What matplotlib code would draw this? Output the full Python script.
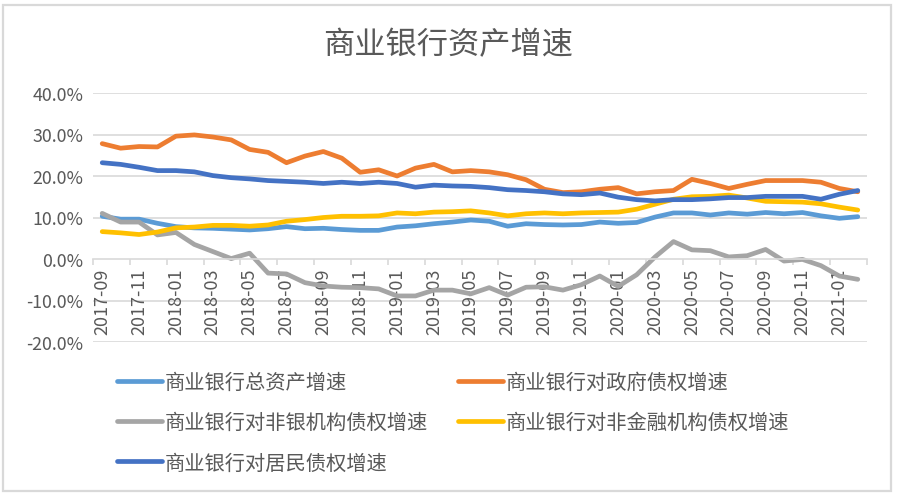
import matplotlib
matplotlib.use('Agg')
import matplotlib.pyplot as plt
from matplotlib.patches import Rectangle
import numpy as np
import pandas as pd

plt.rcParams['font.family'] = ['Noto Sans CJK SC', 'DejaVu Sans']

# monthly, 2017-09 .. 2021-02
months = pd.period_range('2017-09', '2021-02', freq='M').strftime('%Y-%m').tolist()

total_assets = [10.3, 9.6, 9.6, 8.6, 7.8, 7.5, 7.4, 7.2, 7.0, 7.3, 7.8, 7.3, 7.4, 7.1,
                6.9, 6.9, 7.7, 8.0, 8.5, 8.9, 9.4, 9.1, 7.9, 8.5, 8.3, 8.2, 8.3, 8.9,
                8.6, 8.8, 10.1, 11.1, 11.1, 10.6, 11.1, 10.8, 11.2, 10.9, 11.2, 10.4, 9.8, 10.2]
gov_claims = [27.8, 26.7, 27.1, 27.0, 29.6, 29.9, 29.4, 28.7, 26.4, 25.7, 23.2, 24.8, 25.9, 24.3,
              20.9, 21.5, 20.0, 21.9, 22.8, 21.0, 21.3, 21.0, 20.3, 19.1, 16.8, 16.0, 16.2, 16.8,
              17.2, 15.7, 16.2, 16.5, 19.2, 18.2, 17.0, 18.0, 18.9, 18.9, 18.9, 18.5, 17.0, 16.2]
nonbank_claims = [11.0, 8.9, 8.9, 5.8, 6.4, 3.5, 1.8, 0.1, 1.4, -3.4, -3.6, -5.7, -6.5, -6.8,
                  -6.9, -7.2, -8.9, -8.9, -7.5, -7.5, -8.4, -6.9, -8.7, -6.8, -6.7, -7.5, -6.2, -4.1,
                  -6.6, -3.8, 0.5, 4.2, 2.2, 2.0, 0.5, 0.8, 2.3, -0.5, -0.1, -1.6, -4.1, -4.9]
nonfin_claims = [6.6, 6.3, 5.9, 6.5, 7.5, 7.7, 8.1, 8.1, 7.9, 8.2, 9.1, 9.5, 10.0, 10.3,
                 10.3, 10.4, 11.1, 10.9, 11.3, 11.4, 11.6, 11.1, 10.4, 10.9, 11.1, 10.9, 11.1, 11.2,
                 11.3, 12.0, 13.2, 14.4, 15.0, 15.1, 15.4, 14.7, 13.9, 13.8, 13.7, 13.3, 12.5, 11.8]
household_claims = [23.2, 22.8, 22.1, 21.3, 21.3, 21.0, 20.1, 19.6, 19.3, 18.9, 18.7, 18.5, 18.2, 18.5,
                    18.2, 18.5, 18.2, 17.3, 17.8, 17.6, 17.5, 17.2, 16.7, 16.5, 16.2, 15.7, 15.5, 15.9,
                    14.9, 14.3, 14.0, 14.3, 14.3, 14.5, 14.8, 14.8, 15.1, 15.1, 15.1, 14.4, 15.6, 16.5]

series = [
    ('商业银行总资产增速', total_assets, '#5B9BD5'),
    ('商业银行对政府债权增速', gov_claims, '#ED7D31'),
    ('商业银行对非银机构债权增速', nonbank_claims, '#A5A5A5'),
    ('商业银行对非金融机构债权增速', nonfin_claims, '#FFC000'),
    ('商业银行对居民债权增速', household_claims, '#4472C4'),
]

text_col = '#595959'
grid_col = '#d9d9d9'

fig = plt.figure(figsize=(8.97, 5.02), dpi=100)
ax = fig.add_axes([93/897, 1-343/502, (867-93)/897, (343-94)/502])

x = np.arange(len(months))
lines = {}
for name, vals, col in series:
    lines[name], = ax.plot(x, vals, color=col, lw=3.4, solid_capstyle='round',
                           solid_joinstyle='round', label=name)

ax.set_xlim(-0.5, len(months) - 0.5)
ax.set_ylim(-20, 40)
ax.set_yticks(np.arange(-20, 41, 10))
ax.set_yticklabels([f'{v:.1f}%' for v in np.arange(-20, 41, 10)])
ax.tick_params(axis='y', length=0, labelsize=12.8, labelcolor=text_col, pad=7)
for v in [-20, -10, 10, 20, 30, 40]:
    ax.axhline(v, color=grid_col, lw=1.2, zorder=0)

for s in ['top', 'right', 'left']:
    ax.spines[s].set_visible(False)
ax.spines['bottom'].set_position(('data', 0))
ax.spines['bottom'].set_color(grid_col)
ax.spines['bottom'].set_linewidth(1.2)

# tick marks between every second category, labels on the categories
ax.set_xticks(np.arange(-0.5, len(months), 2))
ax.set_xticklabels([])
ax.tick_params(axis='x', which='major', length=4, width=1.2, color=grid_col, direction='out')
ax.set_xticks(x[::2], minor=True)
ax.set_xticklabels(months[::2], minor=True, rotation=90)
ax.tick_params(axis='x', which='minor', length=0, labelsize=13, labelcolor=text_col, pad=6)

fig.text(0.5, 1-45/502, '商业银行资产增速', ha='center', va='center', fontsize=22.5, color=text_col)

order = ['商业银行总资产增速', '商业银行对非银机构债权增速', '商业银行对居民债权增速',
         '商业银行对政府债权增速', '商业银行对非金融机构债权增速']
fig.legend([lines[n] for n in order], order, loc='upper left',
           bbox_to_anchor=(117/897, 1-373/502), ncol=2, frameon=False,
           fontsize=14.6, labelcolor=text_col, handlelength=2.2, handletextpad=0.15,
           labelspacing=0.95, columnspacing=1.5, borderpad=0, borderaxespad=0)

fig.patches.append(Rectangle((3/897, 1-492/502), 888/897, 486/502, transform=fig.transFigure,
                             fill=False, edgecolor=grid_col, lw=1.6))

fig.savefig('out.png', dpi=100, facecolor='white')
